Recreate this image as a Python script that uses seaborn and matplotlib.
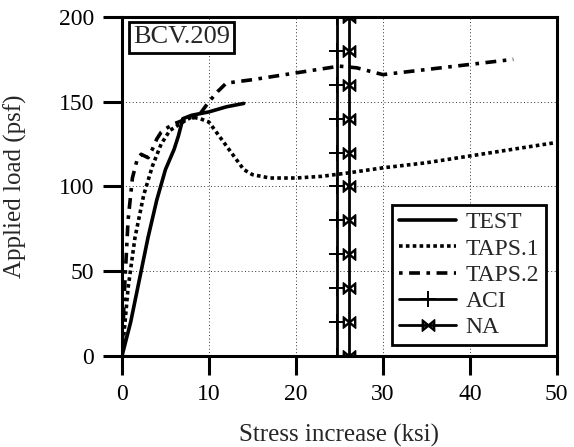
"""
    plot.py
    Applied load vs. stress increase for beam BCV.209.
"""
import pandas as pd
import seaborn as sns
import matplotlib.pyplot as plt

# Data.
test_x = [0, 1, 2, 3, 4, 5, 6, 6.5, 7, 8, 10, 12, 14]
test_y = [0, 20, 45, 70, 92, 110, 122, 130, 140, 142, 144, 147, 149]

taps1_x = [0, 0.7, 1.5, 2.5, 3.5, 4.5, 5.5, 7, 8, 9, 10, 11, 12, 13, 14, 15, 17, 20, 23, 26, 30, 35, 40, 45, 50]
taps1_y = [0, 40, 70, 95, 112, 125, 133, 138, 141, 140, 138, 131, 124, 117, 110, 107, 105, 105, 106, 108, 111, 114, 118, 122, 126]

taps2_x = [0, 0.3, 0.7, 1.2, 1.7, 2.2, 3, 3.5, 4, 4.5, 5, 6, 7, 8, 9, 10, 11, 12, 15, 20, 25, 27, 30, 35, 40, 45]
taps2_y = [0, 40, 80, 105, 115, 119, 117, 122, 128, 132, 134, 137, 139, 140, 143, 150, 156, 161, 163, 167, 171, 170, 166, 169, 172, 175]

aci_x = [24.7] * 11
aci_y = [0, 20, 40, 60, 80, 100, 120, 140, 160, 180, 200]

na_x = [26.1] * 11
na_y = [0, 20, 40, 60, 80, 100, 120, 140, 160, 180, 200]

x_ticks = [0, 10, 20, 30, 40, 50]
y_ticks = [0, 50, 100, 150, 200]


def main():
    sns.set_style('ticks')
    plt.rcParams['font.family'] = ['Liberation Serif', 'DejaVu Serif']
    plt.rcParams['mathtext.fontset'] = 'stix'

    fig = plt.figure(figsize=(5.74, 4.47), dpi=100)
    ax = fig.add_axes([0.2125, 0.2036, 0.7575, 0.7584])

    params = dict(ax=ax, estimator=None, sort=False, color='black')
    sns.lineplot(x=test_x, y=test_y, lw=2.6, label='TEST', **params)
    sns.lineplot(x=taps1_x, y=taps1_y, lw=2.6, linestyle=(0, (1, 0.9)),
                 label='TAPS.1', **params)
    sns.lineplot(x=taps2_x, y=taps2_y, lw=2.6, linestyle=(0, (1, 1.8, 3, 1.8)),
                 label='TAPS.2', **params)
    sns.lineplot(x=aci_x, y=aci_y, lw=2, marker='+', markersize=12,
                 markeredgewidth=1.4, markeredgecolor='black',
                 label='ACI', **params)
    sns.lineplot(x=na_x, y=na_y, lw=2, marker='$\\bowtie$', markersize=9,
                 markeredgewidth=0.9, markeredgecolor='black',
                 markerfacecolor='black', label='NA', **params)

    ax.set_xlim(0, 50)
    ax.set_ylim(0, 200)
    ax.set_xticks(x_ticks)
    ax.set_yticks(y_ticks)
    ax.grid(True, linestyle=(0, (1, 2.5)), color='black', lw=0.7, alpha=0.8)
    ax.set_axisbelow(True)
    for side in ['top', 'right', 'bottom', 'left']:
        ax.spines[side].set_linewidth(2.2)
        ax.spines[side].set_color('black')
    ax.tick_params(direction='out', length=14, width=2.2, labelsize=17,
                   colors='black', pad=6)

    ax.set_xlabel('Stress increase (ksi)', fontsize=18, labelpad=14)
    ax.set_ylabel('Applied load (psf)', fontsize=18, labelpad=23)

    ax.text(0.025, 0.972, 'BCV.209', transform=ax.transAxes, fontsize=19,
            va='top', ha='left', zorder=5,
            bbox=dict(facecolor='white', edgecolor='black', lw=2, pad=3))

    lg = ax.legend(loc='lower right', fontsize=17, fancybox=False,
                   handlelength=2.4, borderaxespad=0.45, labelspacing=0.2,
                   handletextpad=0.4, borderpad=0.3)
    frame = lg.get_frame()
    frame.set_edgecolor('black')
    frame.set_linewidth(2)
    frame.set_alpha(1)

    plt.savefig('out.png', dpi=100)


if __name__ == '__main__':
    main()
